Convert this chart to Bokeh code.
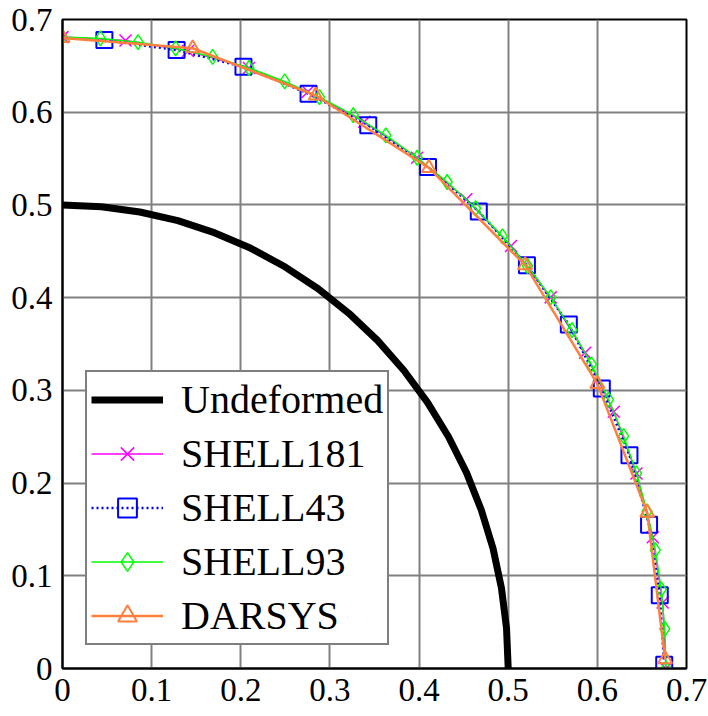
from bokeh.plotting import figure
from bokeh.models import Range1d, Legend, LegendItem, FixedTicker
from bokeh.embed import file_html
from bokeh.resources import INLINE

# Undeformed quarter circle (radius 0.5)
und_x = [0, 0.0436, 0.0868, 0.1294, 0.1710, 0.2113, 0.25, 0.2868, 0.3214, 0.3536,
         0.3830, 0.4096, 0.4330, 0.4532, 0.4698, 0.4830, 0.4924, 0.4981, 0.5]
und_y = [0.5, 0.4981, 0.4924, 0.4830, 0.4698, 0.4532, 0.4330, 0.4096, 0.3830, 0.3536,
         0.3214, 0.2868, 0.25, 0.2113, 0.1710, 0.1294, 0.0868, 0.0436, 0]

s181_x = [0, 0.0707, 0.1408, 0.2092, 0.2753, 0.3385, 0.3979, 0.4530, 0.5031, 0.5477,
          0.5863, 0.6184, 0.6439, 0.6622, 0.6733, 0.677]
s181_y = [0.681, 0.6773, 0.6661, 0.6477, 0.6221, 0.5897, 0.5509, 0.5061, 0.4557, 0.4003,
          0.3405, 0.2770, 0.2104, 0.1416, 0.0712, 0]

s43_x = [0.047, 0.128, 0.203, 0.276, 0.343, 0.410, 0.467, 0.521, 0.568, 0.605,
         0.636, 0.658, 0.670, 0.675]
s43_y = [0.678, 0.667, 0.649, 0.620, 0.586, 0.541, 0.493, 0.435, 0.371, 0.302,
         0.230, 0.155, 0.079, 0.004]

s93_x = [0, 0.0425, 0.0848, 0.1269, 0.1684, 0.2092, 0.2492, 0.2883, 0.3262, 0.3627,
         0.3979, 0.4315, 0.4634, 0.4935, 0.5216, 0.5477, 0.5716, 0.5933, 0.6125, 0.6295,
         0.6439, 0.6557, 0.6650, 0.6717, 0.6756, 0.677]
s93_y = [0.681, 0.6796, 0.6756, 0.6689, 0.6596, 0.6477, 0.6332, 0.6162, 0.5968, 0.5750,
         0.5509, 0.5247, 0.4964, 0.4661, 0.4341, 0.4003, 0.3649, 0.3281, 0.2900, 0.2507,
         0.2104, 0.1694, 0.1276, 0.0853, 0.0428, 0]

dar_x = [0, 0.146, 0.284, 0.411, 0.519, 0.600, 0.656, 0.676]
dar_y = [0.680, 0.669, 0.618, 0.540, 0.435, 0.307, 0.168, 0.010]

ticks = [0, 0.1, 0.2, 0.3, 0.4, 0.5, 0.6, 0.7]

FONT = "Liberation Serif"

p = figure(width=708, height=712, output_backend="svg", toolbar_location=None,
           x_range=Range1d(0, 0.7), y_range=Range1d(0, 0.7),
           min_border_left=62, min_border_top=19, min_border_right=22, min_border_bottom=44)
p.background_fill_color = "white"
p.border_fill_color = "white"
p.outline_line_color = "black"
p.outline_line_width = 2

for ax in (p.xaxis[0], p.yaxis[0]):
    ax.ticker = FixedTicker(ticks=ticks)
    ax.major_label_overrides = {0: "0"}
    ax.major_label_text_font = FONT
    ax.major_label_text_font_size = "33px"
    ax.major_label_text_color = "black"
    ax.major_tick_line_color = None
    ax.minor_tick_line_color = None
    ax.axis_line_color = "black"
    ax.axis_line_width = 2
    ax.major_label_standoff = 4

for g in (p.xgrid[0], p.ygrid[0]):
    g.ticker = FixedTicker(ticks=ticks)
    g.grid_line_color = "#808080"
    g.grid_line_width = 2

r_und = p.line(und_x, und_y, line_color="black", line_width=7)

l181 = p.line(s181_x, s181_y, line_color="#FF00FF", line_width=1.5)
m181 = p.scatter(s181_x, s181_y, marker="x", size=17, line_color="#FF00FF", line_width=1.5)

l43 = p.line(s43_x, s43_y, line_color="#0000FF", line_width=2.5, line_dash="2 3")
m43 = p.scatter(s43_x, s43_y, marker="square", size=16, line_color="#0000FF",
                fill_color=None, line_width=2)

l93 = p.line(s93_x, s93_y, line_color="#00FF00", line_width=1.5)
m93 = p.scatter(s93_x, s93_y, marker="diamond", size=15, line_color="#00FF00",
                fill_color=None, line_width=1.5)

ldar = p.line(dar_x, dar_y, line_color="#FF7F3F", line_width=2.5)
mdar = p.scatter(dar_x, dar_y, marker="triangle", size=14, line_color="#FF7F3F",
                 fill_color=None, line_width=2)

legend = Legend(items=[
    LegendItem(label="Undeformed", renderers=[r_und]),
    LegendItem(label="SHELL181", renderers=[l181, m181]),
    LegendItem(label="SHELL43", renderers=[l43, m43]),
    LegendItem(label="SHELL93", renderers=[l93, m93]),
    LegendItem(label="DARSYS", renderers=[ldar, mdar]),
], location=(23, 23))
legend.label_text_font = FONT
legend.label_text_font_size = "40px"
legend.label_text_color = "black"
legend.border_line_color = "black"
legend.border_line_width = 2
legend.background_fill_color = "white"
legend.background_fill_alpha = 1.0
legend.glyph_width = 72
legend.glyph_height = 47
legend.label_height = 47
legend.label_standoff = 18
legend.spacing = 7
legend.padding = 4
legend.margin = 0
p.add_layout(legend)

open("out.html", "w").write(file_html(p, INLINE))
